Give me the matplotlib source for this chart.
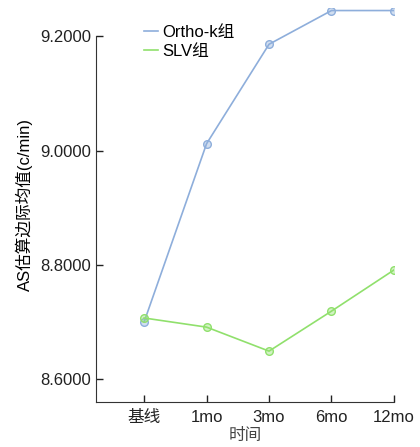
import matplotlib
matplotlib.use("Agg")
import matplotlib.pyplot as plt

plt.rcParams['font.family'] = ['Liberation Sans', 'Noto Sans CJK SC', 'DejaVu Sans']

time_labels = ['基线', '1mo', '3mo', '6mo', '12mo']
orthok = [8.700, 9.012, 9.186, 9.245, 9.245]
slv = [8.707, 8.691, 8.649, 8.719, 8.791]

blue = '#8eaedb'
green = '#90e06c'

fig = plt.figure(figsize=(4.2, 4.47), dpi=100)
ax = fig.add_axes([0.2286, 0.1007, 0.938 - 0.2286, 0.9828 - 0.1007])

x = range(len(time_labels))
ax.plot(x, orthok, color=blue, lw=1.2, marker='o', ms=5.5, mfc=blue + '66', mec=blue, mew=1.0, label='Ortho-k组')
ax.plot(x, slv, color=green, lw=1.2, marker='o', ms=5.5, mfc=green + '66', mec=green, mew=1.0, label='SLV组')

ax.set_xlim(-0.77, 4)
ax.set_ylim(8.56, 9.25)
ax.set_yticks([8.6, 8.8, 9.0, 9.2])
ax.set_yticklabels(['%.4f' % v for v in [8.6, 8.8, 9.0, 9.2]])
ax.set_xticks(list(x))
ax.set_xticklabels(time_labels)
ax.tick_params(direction='in', length=5, width=1, labelsize=12, colors='#222222')
ax.tick_params(axis='x', pad=6)

for s in ['top', 'right']:
    ax.spines[s].set_visible(False)
ax.spines['left'].set_bounds(8.56, 9.2)
ax.spines['left'].set_color('#333333')
ax.spines['bottom'].set_color('#333333')

ax.set_ylabel('AS估算边际均值(c/min)', fontsize=12, labelpad=5)
ax.set_xlabel('时间', fontsize=12, labelpad=2, color='#444444')

ax.legend(loc='upper left', bbox_to_anchor=(0.11, 0.995), frameon=False, fontsize=12,
          handlelength=0.85, handletextpad=0.25, labelspacing=0.25, markerscale=0)

fig.savefig('out.png', dpi=100)
